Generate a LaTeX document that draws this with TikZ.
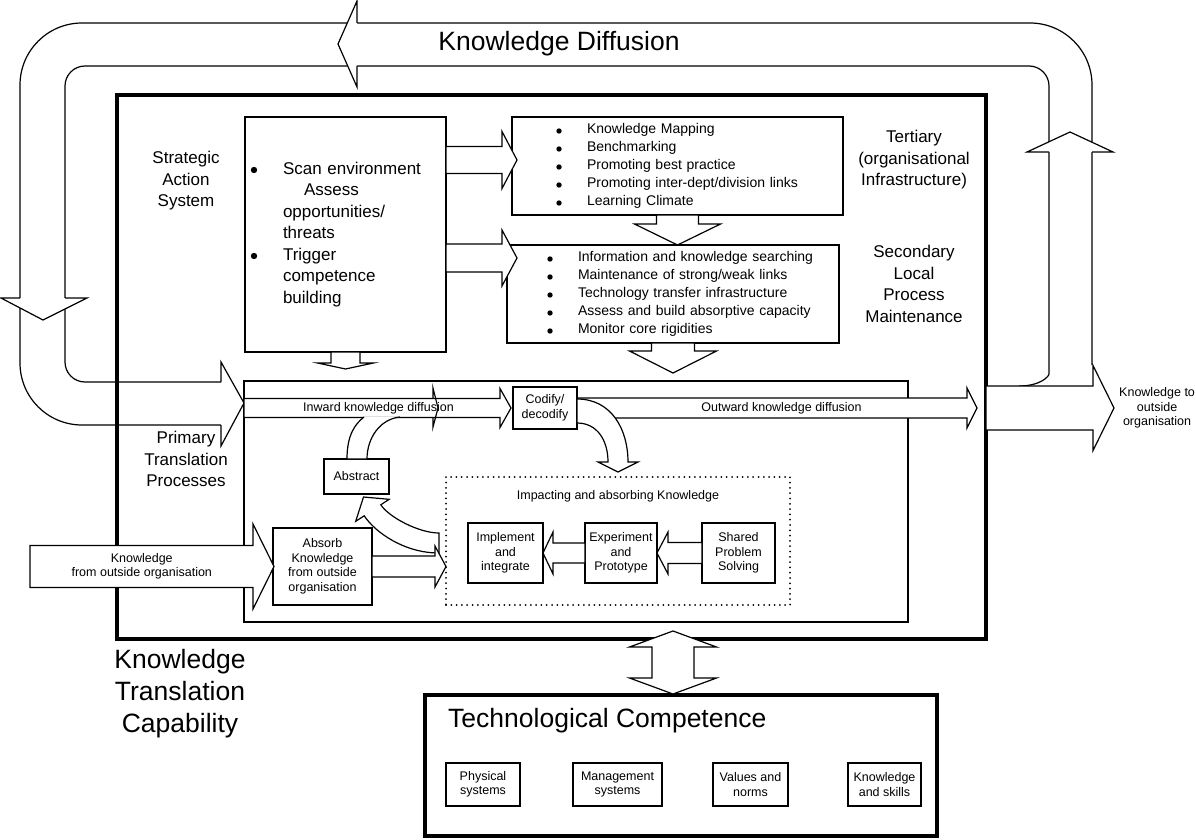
\documentclass[tikz,border=0pt]{standalone}
\usepackage{fontspec}
\setmainfont{Liberation Sans}
\usepackage{tikz}
\usetikzlibrary{calc, positioning}

\newcommand{\kdbig}{\fontsize{26.5}{32}\selectfont}
\newcommand{\kdmid}{\fontsize{17}{21.5}\selectfont}
\newcommand{\kdlist}{\fontsize{14}{18}\selectfont}
\newcommand{\kdsmall}{\fontsize{12.5}{14.5}\selectfont}

\tikzset{
  kd line/.style={draw=black, line width=1.2pt},
  kd box/.style={draw=black, fill=white, line width=1.2pt, inner sep=0pt,
    outer sep=0pt, align=center, font=\kdsmall},
  kd list/.style={kd box, align=left, inner xsep=0pt, font=\kdlist},
  kd thick/.style={draw=black, line width=4.5pt, inner sep=0pt, outer sep=0pt},
  kd dots/.style={draw=black, line width=2pt, dash pattern=on 0pt off 5.3pt,
    line cap=round, inner sep=0pt, outer sep=0pt},
  kd fat/.style={draw=black, fill=white, line width=1.2pt, line join=miter},
  kd text/.style={inner sep=0pt, align=center},
}

% block arrow: [style]{from}{to}{half shaft}{half head}{head length}
\newcommand{\fatarrow}[6][]{%
  \coordinate (fa-a) at (#2);
  \coordinate (fa-b) at (#3);
  \coordinate (fa-h) at ($(fa-b)!#6!(fa-a)$);
  \draw[kd fat,#1] ($(fa-a)!#4!90:(fa-b)$) -- ($(fa-h)!#4!90:(fa-b)$)
    -- ($(fa-h)!#5!90:(fa-b)$) -- (fa-b) -- ($(fa-h)!#5!-90:(fa-b)$)
    -- ($(fa-h)!#4!-90:(fa-b)$) -- ($(fa-a)!#4!-90:(fa-b)$) -- cycle;}
% two-headed block arrow, same arguments
\newcommand{\fatdouble}[6][]{%
  \coordinate (fd-a) at (#2);
  \coordinate (fd-b) at (#3);
  \coordinate (fd-h) at ($(fd-a)!#6!(fd-b)$);
  \coordinate (fd-k) at ($(fd-b)!#6!(fd-a)$);
  \draw[kd fat,#1] (fd-a) -- ($(fd-h)!#5!90:(fd-b)$) -- ($(fd-h)!#4!90:(fd-b)$)
    -- ($(fd-k)!#4!-90:(fd-a)$) -- ($(fd-k)!#5!-90:(fd-a)$) -- (fd-b)
    -- ($(fd-k)!#5!90:(fd-a)$) -- ($(fd-k)!#4!90:(fd-a)$)
    -- ($(fd-h)!#4!-90:(fd-b)$) -- ($(fd-h)!#5!-90:(fd-b)$) -- cycle;}

\begin{document}
\begin{tikzpicture}[x=1pt, y=-1pt]
 \useasboundingbox (0,0) rectangle (1196,840);

 % knowledge diffusion loop
 \draw[kd line, rounded corners=62pt] (221,425) -- (20,425) -- (20,23) -- (1092,23) -- (1092,365);
 \draw[kd line, rounded corners=20pt] (221,382) -- (65,382) -- (65,66) -- (1049,66) -- (1049,354)
   .. controls (1049,376) and (1041,386) .. (1019,386);
 \node[kd text, font=\kdbig] (kdiff) at (559,44) {Knowledge Diffusion};

 \node[kd thick, minimum width=869pt, minimum height=544pt] (ktc) at (551.5,367) {};
 \node[kd text, font=\kdbig] (ktclbl) at (180,694) {Knowledge\\Translation\\Capability};

 \node[kd list, font=\kdmid, minimum width=201pt, minimum height=235pt, text width=201pt] (strat) at (345.5,234.5)
   {\begin{tabular}{@{\hspace{38pt}}l@{}}
     Scan environment\\
     \hspace{21pt}Assess\\
     opportunities/\\
     threats\\
     Trigger\\
     competence\\
     building
   \end{tabular}};
 \foreach \r in {0,4}
   \fill ($(strat.north west)+(9,53+21.5*\r)$) circle (3.2pt);
 \node[kd text, font=\kdmid] (stratlbl) at (186,181) {Strategic\\Action\\System};

 \node[kd list, minimum width=331pt, minimum height=98pt, text width=331pt] (tert) at (677.5,166)
   {\begin{tabular}{@{\hspace{75pt}}l@{}}
     Knowledge Mapping\\
     Benchmarking\\
     Promoting best practice\\
     Promoting inter-dept/division links\\
     Learning Climate
   \end{tabular}};
 \foreach \r in {0,...,4}
   \fill ($(tert.north west)+(47,14+18*\r)$) circle (2.7pt);
 \node[kd text, font=\kdmid] (tertlbl) at (914,160) {Tertiary\\(organisational\\Infrastructure)};

 \node[kd list, minimum width=332pt, minimum height=98pt, text width=332pt] (sec) at (673,294)
   {\begin{tabular}{@{\hspace{71pt}}l@{}}
     Information and knowledge searching\\
     Maintenance of strong/weak links\\
     Technology transfer infrastructure\\
     Assess and build absorptive capacity\\
     Monitor core rigidities
   \end{tabular}};
 \foreach \r in {0,...,4}
   \fill ($(sec.north west)+(43,14+18*\r)$) circle (2.7pt);
 \node[kd text, font=\kdmid] (seclbl) at (914,284) {Secondary\\Local\\Process\\Maintenance};

 \node[kd box, minimum width=664pt, minimum height=241pt] (prim) at (576,501.5) {};
 \node[kd text, font=\kdmid] (primlbl) at (186,459) {Primary\\Translation\\Processes};

 % loop arrow heads
 \coordinate (loopin) at ($(prim.west)+(0,-98.5)$);
 \draw[kd fat] (357,23) -- (357,1) -- (338,44) -- (357,87) -- (357,66);
 \draw[kd fat] (20,298) -- (1,298) -- (43,320) -- (87,298) -- (65,298);
 \draw[kd fat] (1049,152) -- (1027,152) -- (1070,132) -- (1113,152) -- (1092,152);
 \draw[kd fat] (221,382) -- (221,362) -- (loopin) -- (221,446) -- (221,425);

 \coordinate (t1) at ($(tert.west)+(5,-6)$);
 \fatarrow{strat.east |- t1}{t1}{13.5pt}{28.5pt}{15pt}
 \coordinate (s1) at ($(sec.north west)+(10,13)$);
 \fatarrow{strat.east |- s1}{s1}{14pt}{28pt}{15pt}
 \fatarrow{tert.south}{tert.south |- sec.north}{21pt}{43pt}{21pt}
 \fatarrow{strat.south}{$(strat.south |- prim.north)+(0,-12)$}{14.5pt}{28pt}{6pt}
 \fatarrow{sec.south}{$(sec.south |- prim.north)+(0,-8)$}{21.5pt}{43.5pt}{22pt}

 \node[kd box, minimum width=64pt, minimum height=42pt] (codify) at (545,408) {Codify/\\decodify};
 \fatarrow{prim.west |- codify.west}{$(codify.west)+(-2,0)$}{9.5pt}{19.5pt}{11pt}
 \node[kd text, font=\kdsmall] (inlbl) at ($(prim.west |- codify.west)!.5!(codify.west)$) {Inward knowledge diffusion};
 \fatarrow{codify.east}{$(codify.east -| ktc.east)+(-9,0)$}{10pt}{20pt}{10pt}
 \node[kd text, font=\kdsmall] (outlbl) at ($(codify.east)!.5!(codify.east -| ktc.east)$) {Outward knowledge diffusion};

 \node[kd box, minimum width=65pt, minimum height=35pt] (abstract) at (356.5,476.5) {Abstract};
 \draw[kd fat] ($(abstract.north)+(7.5,-42)$) .. controls +(-9,7) and +(0,-24) .. ($(abstract.north)+(-9.5,0)$)
   -- ($(abstract.north)+(10.5,0)$) .. controls +(0,-21) and +(-20,2) .. ($(abstract.north)+(43.5,-42)$);
 \draw[kd line] ($(codify.west)+(-80,-10)$) -- ++(0,-10) -- ($(codify.west)+(-75,0)$)
   -- ($(codify.west)+(-80,19)$) -- ++(0,-9);
 \draw[kd fat] ($(codify.east)+(0,-9)$) .. controls +(35,0) and +(0,-32) .. ($(codify.east)+(51,54)$)
   -- ++(10,0) -- ($(codify.east)+(41,64)$) -- ($(codify.east)+(21,54)$) -- ++(10,0)
   .. controls +(0,-22) and +(20,0) .. ($(codify.east)+(0,15)$) -- cycle;

 \node[kd dots, minimum width=344pt, minimum height=128pt] (impact) at (618,541) {};
 \node[kd text, font=\kdsmall, below=13pt of impact.north] (impactlbl) {Impacting and absorbing Knowledge};
 \node[kd box, minimum width=75pt, minimum height=60pt] (implement) at (505.5,553) {Implement\\and\\integrate};
 \node[kd box, minimum width=72pt, minimum height=60pt] (experiment) at (621,553) {Experiment\\and\\Prototype};
 \node[kd box, minimum width=73pt, minimum height=60pt] (shared) at (738.5,553) {Shared\\Problem\\Solving};
 \fatarrow{experiment.west}{implement.east}{10pt}{21pt}{10pt}
 \fatarrow{shared.west}{experiment.east}{10.5pt}{21pt}{11pt}

 \node[kd box, minimum width=99pt, minimum height=77pt] (absorb) at (322.5,566.5) {Absorb\\Knowledge\\from outside\\organisation};
 \coordinate (ia) at ($(impact.west)+(-7,-8)$);
 \coordinate (ib) at ($(impact.west)+(-7,12)$);
 \coordinate (at) at ($(abstract.south)+(7,3)$);
 \draw[kd fat] (ia) .. controls +(-20,0) and +(8.2,12.5) .. ($(at)+(17.3,7.8)$) -- ($(at)+(25.6,2.3)$)
   -- (at) -- ($(at)+(-7.8,24.3)$) -- ($(at)+(0.7,18.8)$) .. controls +(11,16.5) and +(-35,0) .. (ib) -- cycle;
 \fatarrow{absorb.east}{impact.west |- absorb.east}{10.5pt}{20.5pt}{11pt}

 % to and from outside the organisation
 \coordinate (fromout) at ($(absorb.west)+(-243,0)$);
 \fatarrow{fromout}{$(absorb.west)+(1,0)$}{21pt}{42.5pt}{21pt}
 \node[kd text, font=\kdsmall] (fromlbl) at ($(fromout)!.46!(absorb.west)$) {Knowledge\\from outside organisation};
 \coordinate (toout) at ($(ktc.east |- codify.east)+(128,0)$);
 \fatarrow{ktc.east |- codify.east}{toout}{22pt}{42.5pt}{21pt}
 \node[kd text, font=\kdsmall, right=5pt of toout] (tolbl) {Knowledge to\\outside\\organisation};

 \node[kd thick, fill=white, minimum width=512pt, minimum height=141pt] (tech) at (681,765.5) {};
 \node[kd text, font=\kdbig, anchor=west] (techlbl) at ($(tech.north west)+(23,26)$) {Technological Competence};
 \node[kd box, minimum width=74pt, minimum height=43pt] (phys) at (483,784.5) {Physical\\systems};
 \node[kd box, minimum width=89pt, minimum height=43pt] (mgmt) at (617.5,784.5) {Management\\systems};
 \node[kd box, minimum width=75pt, minimum height=43pt] (values) at (750.5,784.5) {Values and\\norms};
 \node[kd box, minimum width=73pt, minimum height=43pt] (skills) at (884.5,784.5) {Knowledge\\and skills};
 \fatdouble{$(ktc.south -| tech.north)+(-8,-8)$}{$(tech.north)+(-8,-1)$}{21pt}{43.5pt}{16pt}
\end{tikzpicture}
\end{document}
